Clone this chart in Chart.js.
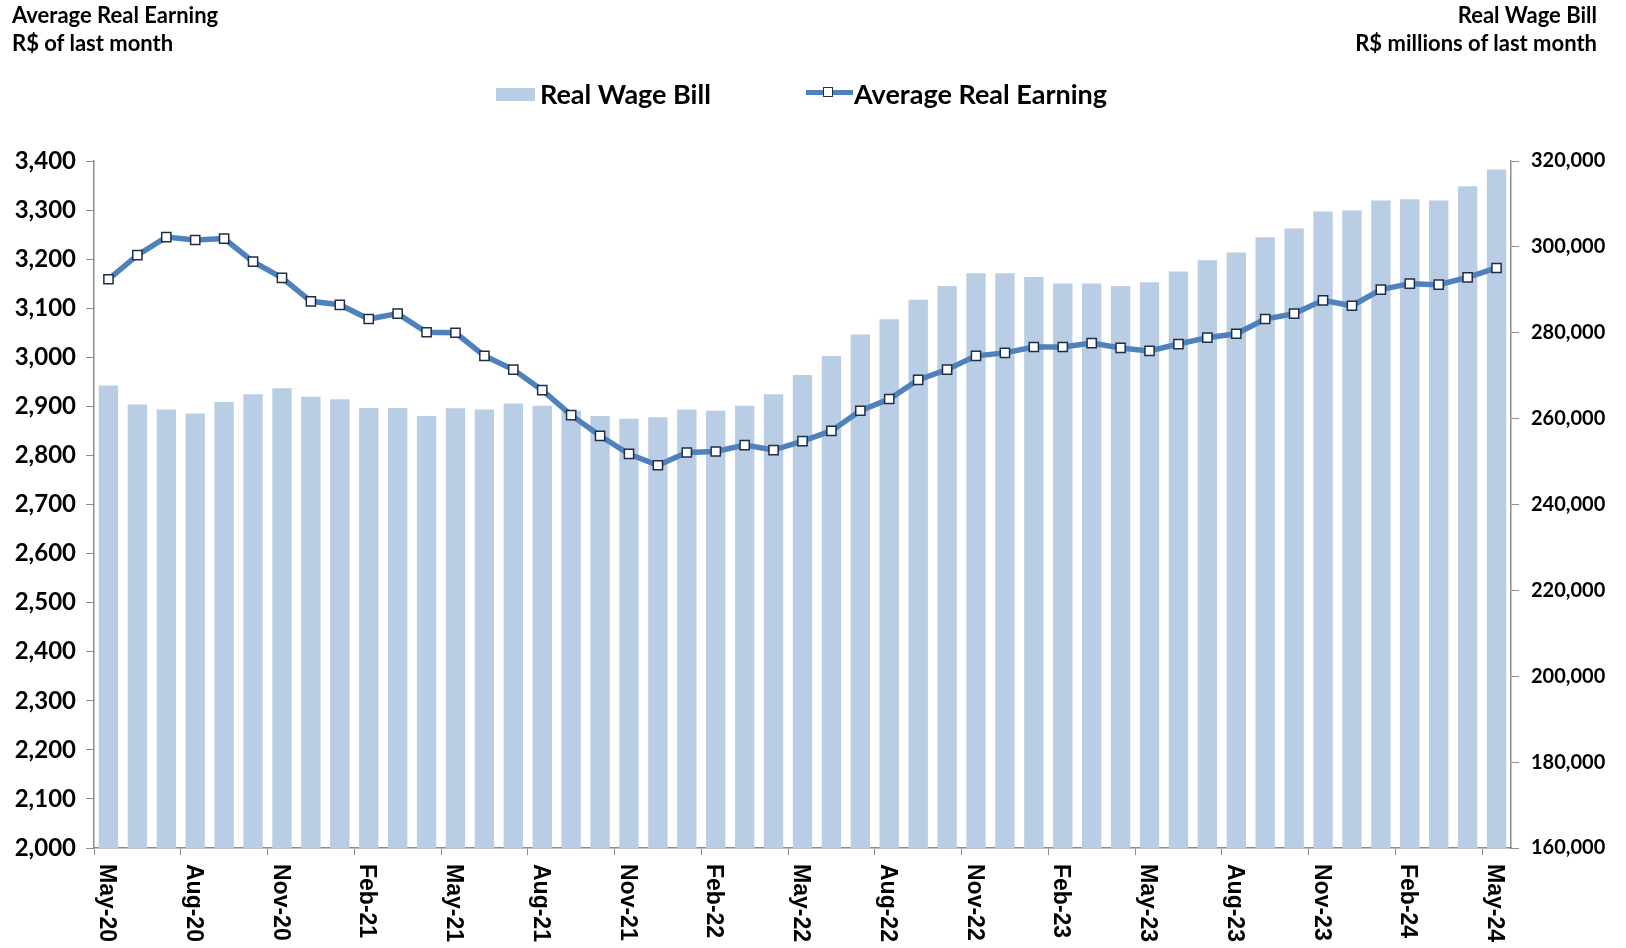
<!DOCTYPE html>
<html>
<head>
<meta charset="utf-8">
<script src="https://cdn.jsdelivr.net/npm/chart.js@4.4.1/dist/chart.umd.min.js"></script>
<style>
    body { margin: 0; background: #fff; }
    #wrap { position: relative; width: 1626px; height: 948px; }
    .title { position: absolute; font-family: Lato, sans-serif; font-weight: bold; font-size: 22px; color: #000; line-height: 28px; }
    .legend-text { position: absolute; font-family: Lato, sans-serif; font-weight: bold; font-size: 27px; color: #000; line-height: 30px; top: 79px; }
</style>
</head>
<body>
<div id="wrap">
    <canvas id="myChart" width="1626" height="948"></canvas>
    <div class="title" style="left:12px; top:1px;">Average Real Earning<br>R$ of last month</div>
    <div class="title" style="right:29px; top:1px; text-align:right;">Real Wage Bill<br>R$ millions of last month</div>

    <div style="position:absolute; left:496px; top:88px; width:39px; height:13px; background:#b9cde5;"></div>
    <div class="legend-text" style="left:540px;">Real Wage Bill</div>

    <div style="position:absolute; left:806px; top:90px; width:47px; height:5px; background:#4f81bd;"></div>
    <div style="position:absolute; left:823px; top:87px; width:8px; height:8px; background:#fff; border:1.5px solid #1f2f45;"></div>
    <div class="legend-text" style="left:854px;">Average Real Earning</div>
</div>
<script>
// monthly categories, May-20 to May-24
const months = [
    'May-20', 'Jun-20', 'Jul-20', 'Aug-20', 'Sep-20', 'Oct-20', 'Nov-20', 'Dec-20',
    'Jan-21', 'Feb-21', 'Mar-21', 'Apr-21', 'May-21', 'Jun-21', 'Jul-21', 'Aug-21',
    'Sep-21', 'Oct-21', 'Nov-21', 'Dec-21', 'Jan-22', 'Feb-22', 'Mar-22', 'Apr-22',
    'May-22', 'Jun-22', 'Jul-22', 'Aug-22', 'Sep-22', 'Oct-22', 'Nov-22', 'Dec-22',
    'Jan-23', 'Feb-23', 'Mar-23', 'Apr-23', 'May-23', 'Jun-23', 'Jul-23', 'Aug-23',
    'Sep-23', 'Oct-23', 'Nov-23', 'Dec-23', 'Jan-24', 'Feb-24', 'Mar-24', 'Apr-24',
    'May-24'
];

// R$ millions of last month (right axis)
const realWageBill = [
    267700, 263300, 262150, 261200, 263850, 265700, 267100, 265100,
    264500, 262450, 262450, 260600, 262400, 262150, 263550, 263000,
    261850, 260600, 259970, 260300, 262150, 261850, 263000, 265700,
    270140, 274560, 279600, 283170, 287660, 290900, 293870, 293870,
    293000, 291470, 291470, 290900, 291780, 294270, 296900, 298690,
    302250, 304270, 308220, 308460, 310790, 311090, 310790, 314100,
    318000
];

// R$ of last month (left axis)
const avgRealEarning = [
    3159, 3208, 3245, 3239, 3242, 3195, 3162, 3114,
    3107, 3078, 3089, 3051, 3050, 3003, 2975, 2933,
    2882, 2840, 2803, 2780, 2806, 2808, 2821, 2811,
    2829, 2850, 2891, 2915, 2954, 2975, 3003, 3009,
    3021, 3021, 3029, 3019, 3013, 3027, 3040, 3048,
    3078, 3089, 3116, 3105, 3138, 3150, 3148, 3163,
    3182
];

const leftTicks = { min: 2000, max: 3400, step: 100 };
const rightTicks = { min: 160000, max: 320000, step: 20000 };

const axisGrey = '#8c8c8c';

// x labels in the original read top to bottom, so draw them by hand
const xLabelPlugin = {
    id: 'xLabels',
    afterDraw(chart) {
        const ctx = chart.ctx;
        const xScale = chart.scales.x;
        ctx.save();
        ctx.font = 'bold 23px "Liberation Sans", Arial, sans-serif';
        ctx.fillStyle = '#000';
        ctx.textAlign = 'left';
        ctx.textBaseline = 'middle';
        for (let i = 0; i < months.length; i += 3) {
            const x = xScale.getPixelForValue(i);
            ctx.save();
            ctx.translate(x - 2, xScale.top + 16);
            ctx.rotate(Math.PI / 2);
            ctx.fillText(months[i], 0, 0);
            ctx.restore();
        }
        ctx.restore();
    }
};

const ctx = document.getElementById('myChart').getContext('2d');
const myChart = new Chart(ctx, {
    type: 'bar',
    data: {
        labels: months,
        datasets: [{
            type: 'line',
            label: 'Average Real Earning',
            data: avgRealEarning,
            yAxisID: 'y',
            order: 0,
            borderColor: '#4f81bd',
            borderWidth: 5.5,
            pointStyle: 'rect',
            pointRadius: 6.5,
            pointBackgroundColor: '#ffffff',
            pointBorderColor: '#1f2f45',
            pointBorderWidth: 1.5,
            tension: 0,
            fill: false
        }, {
            type: 'bar',
            label: 'Real Wage Bill',
            data: realWageBill,
            yAxisID: 'y2',
            order: 1,
            backgroundColor: '#b9cde5',
            barPercentage: 0.67,
            categoryPercentage: 1.0
        }]
    },
    options: {
        responsive: false,
        animation: false,
        layout: {
            padding: { top: 161, left: 0, right: 0, bottom: 0 }
        },
        plugins: {
            legend: { display: false },
            tooltip: { enabled: false }
        },
        scales: {
            x: {
                offset: true,
                grid: {
                    offset: true,
                    drawOnChartArea: false,
                    tickLength: 7,
                    color: (c) => (c.index % 3 === 0 ? axisGrey : 'rgba(0,0,0,0)')
                },
                border: { color: axisGrey, width: 1.5 },
                ticks: { display: false, autoSkip: false },
                afterFit: (scale) => { scale.height = 100; }
            },
            y: {
                position: 'left',
                min: leftTicks.min,
                max: leftTicks.max,
                grid: { drawOnChartArea: false, tickLength: 8, color: axisGrey },
                border: { color: axisGrey, width: 1.5 },
                ticks: {
                    stepSize: leftTicks.step,
                    color: '#000',
                    padding: 10,
                    font: { family: 'Lato', weight: 'bold', size: 24 },
                    callback: (v) => v.toLocaleString('en-US')
                },
                afterFit: (scale) => { scale.width = 94; }
            },
            y2: {
                position: 'right',
                min: rightTicks.min,
                max: rightTicks.max,
                grid: { drawOnChartArea: false, tickLength: 8, color: axisGrey },
                border: { color: axisGrey, width: 1.5 },
                ticks: {
                    stepSize: rightTicks.step,
                    color: '#000',
                    padding: 12,
                    font: { family: 'Lato', weight: 'bold', size: 20 },
                    callback: (v) => v.toLocaleString('en-US')
                },
                afterFit: (scale) => { scale.width = 115; }
            }
        }
    },
    plugins: [xLabelPlugin]
});
</script>
</body>
</html>
